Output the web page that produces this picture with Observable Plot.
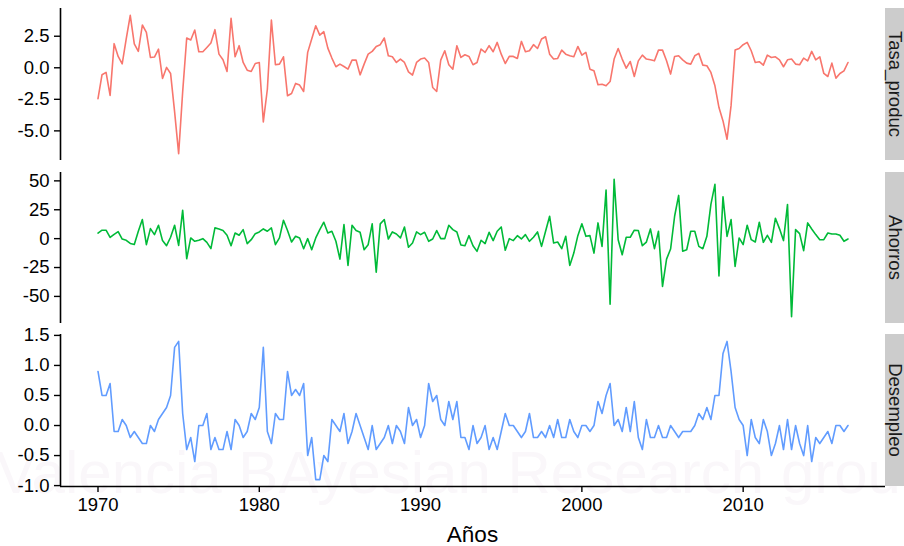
<!DOCTYPE html>
<html><head><meta charset="utf-8">
<script src="https://cdn.jsdelivr.net/npm/d3@7"></script>
<script src="https://cdn.jsdelivr.net/npm/@observablehq/plot@0.6"></script>
<style>
body{margin:0;background:#fff;}
#chart{position:relative;width:904px;height:546px;overflow:hidden;background:#fff;font-family:"Liberation Sans",Arial,Helvetica,sans-serif;}
#chart svg.panel{position:absolute;left:0;overflow:visible;}
#wm{position:absolute;left:-4px;top:443px;font-size:60px;line-height:60px;color:#faf7fa;white-space:nowrap;}
#xlab{position:absolute;left:60px;width:825px;text-align:center;top:524px;height:22px;line-height:22px;font-size:22.5px;color:#000;}
</style></head>
<body><div id="chart"><div id="wm">Valencia BAyesian Research group</div></div>
<script>
// ---- data (quarterly, 1970 Q1 .. 2016 Q3) ----
const startYear = 1970;
const prod = [-2.45,-0.55,-0.36,-2.19,1.91,0.90,0.31,2.29,4.15,1.89,
1.30,3.39,2.80,0.82,0.85,1.48,-0.85,0.03,-0.45,-3.5,
-6.8,-1.9,2.36,2.2,2.99,1.27,1.27,1.61,1.96,3.02,
1.08,0.63,-0.29,3.92,0.87,1.75,0.42,-0.19,-0.29,0.34,
0.42,-4.29,-1.7,3.78,0.24,0.29,0.87,-2.22,-2.04,-1.24,
-1.37,-1.88,1.22,2.28,3.33,2.59,2.86,1.56,0.77,0.08,
0.29,0.10,-0.11,0.61,0.61,-0.56,0.29,1.08,1.30,1.69,
1.83,2.36,0.95,0.87,0.42,0.69,0.42,-0.32,-0.58,0.42,
0.69,0.77,0.42,-1.56,-1.88,0.61,1.35,0.24,-0.11,1.75,
0.82,1.03,0.90,0.24,0.42,1.48,1.22,1.75,1.27,2.01,
1.08,0.34,0.90,0.90,0.74,2.09,1.27,1.35,1.83,1.53,
2.28,2.46,1.08,0.69,0.74,1.40,1.08,0.95,0.87,1.69,
1.00,1.22,-0.11,-0.24,-1.35,-1.30,-1.43,-1.09,0.69,1.53,
0.69,-0.03,0.50,-0.69,0.55,1.00,0.69,0.63,0.55,1.40,
1.40,0.55,-0.50,0.90,0.95,0.63,0.37,0.29,0.95,1.14,
0.21,0.16,-0.37,-1.43,-3.15,-4.21,-5.66,-3.0,1.40,1.53,
1.83,2.01,1.35,0.42,0.48,0.21,1.00,0.82,0.87,0.63,
0.08,0.63,0.69,0.29,0.24,0.77,0.55,1.30,0.63,0.87,
-0.45,-0.69,0.37,-0.82,-0.45,-0.24,0.42];
const sav = [4.8,7.3,7.3,1.0,3.7,6.1,-0.4,-1.4,-4.2,-5.1,
6.4,16.5,-5.2,8.7,3.5,11.6,-1.7,-6.1,1.2,11.6,
-5.8,24.6,-17.4,0.6,-2.3,-1.4,0,-3.2,-8.7,9.3,
8.4,7.0,2.9,-6.1,4.9,2.9,7.8,-4.3,-0.9,4.3,
5.8,8.4,6.4,9.3,-5.2,0.6,15.9,7.0,-2.9,2.0,
0.6,-8.7,0,-9.6,0.6,7.8,14.2,4.9,6.4,-2.3,
-17.7,12.2,-23.2,11.6,7.0,5.5,-9.6,-5.2,12.8,-29.0,
12.8,16.5,-0.3,5.8,4.0,0.6,10.1,-7.5,-3.8,5.8,
3.5,5.5,-2.3,-0.3,7.0,0,0,11.6,7.8,5.8,
-5.5,-6.1,2.6,-6.1,-11.0,-1.4,-4.3,5.5,-1.7,6.4,
10.1,-10.1,0,-1.7,2.6,-0.3,3.5,-2.3,1.2,5.8,
-6.7,6.4,19.4,-3.8,-2.9,-8.7,2.0,-23.2,-12.5,2.6,
12.8,2.0,2.6,-12.5,13.6,-6.7,42.0,-56.8,51.3,-0.9,
-13.9,1.2,1.2,7.3,7.0,-6.1,-3.0,8.4,-8.7,6.4,
-41.4,-17.7,-9.0,19.4,37.4,-10.9,-9.6,6.4,6.4,-6.7,
-8.7,2.0,29.6,47.0,-32.2,36.2,2.0,16.5,-24.1,0.6,
-5.2,11.6,-0.9,-2.9,14.2,-3.2,2.9,-3.2,17.7,8.7,
-1.7,29.6,-67.5,7.8,4.3,-10.4,13.6,8.4,3.5,-0.9,
-0.9,4.9,4.0,4.0,2.9,-2.3,-0.3];
const unemp = [0.9,0.5,0.5,0.7,-0.1,-0.1,0.1,0.0,-0.2,-0.1,
-0.2,-0.3,-0.3,0.0,-0.1,0.1,0.2,0.3,0.5,1.3,
1.4,0.2,-0.4,-0.2,-0.6,0.0,0.0,0.2,-0.4,-0.2,
-0.4,-0.4,-0.1,-0.4,0.1,0.0,-0.2,-0.1,0.2,0.1,
0.3,1.3,-0.1,-0.3,0.2,0.1,0.1,0.9,0.5,0.6,
0.5,0.7,-0.5,-0.2,-0.9,-0.9,-0.5,-0.6,0.1,0.0,
-0.1,0.2,-0.3,-0.1,0.2,0.0,-0.2,-0.4,0.0,-0.4,
-0.3,-0.2,0.0,-0.3,0.0,-0.1,-0.3,0.3,0.0,0.1,
-0.2,0.0,0.7,0.4,0.5,0.1,0.0,0.4,0.1,0.4,
-0.2,-0.2,-0.4,0.0,-0.3,-0.2,0.0,-0.4,-0.2,-0.4,
-0.1,0.2,0.0,0.0,-0.1,-0.2,-0.1,0.2,-0.2,-0.2,
-0.1,-0.2,0.0,-0.2,0.1,-0.2,-0.2,0.1,-0.1,-0.2,
0.0,0.0,-0.1,0.0,0.4,0.2,0.5,0.7,0.0,0.1,
-0.1,0.3,-0.1,0.4,-0.2,-0.4,0.1,-0.2,-0.2,0.0,
-0.2,-0.2,0.0,-0.1,-0.2,-0.1,-0.1,-0.1,0.0,0.2,
0.1,0.3,0.1,0.5,0.5,1.2,1.4,0.9,0.3,0.1,
0.0,-0.5,0.1,-0.2,-0.3,0.1,-0.1,-0.5,-0.3,0.0,
-0.4,0.1,-0.4,0.0,-0.3,-0.5,0.0,-0.6,-0.2,-0.3,
-0.2,-0.1,-0.3,0.0,0.0,-0.1,0.0];
const seriesNames = ["Tasa_produc","Ahorros","Desempleo"];
const prodTicks = [-5,-2.5,0,2.5];
const savTicks = [-50,-25,0,25,50];
const unempTicks = [-1,-0.5,0,0.5,1,1.5];
const yearTicks = [1970,1980,1990,2000,2010];
const xTitle = "Años";

// ---- layout ----
const W = 885, LEFT = 60;
const FONT = '"Liberation Sans", Arial, Helvetica, sans-serif';
const years = prod.map((_, i) => startYear + i / 4);
const pad = e => { const r = e[1] - e[0]; return [e[0] - 0.05 * r, e[1] + 0.05 * r]; };
const xdom = pad(d3.extent(years));
const panels = [
  {name: seriesNames[0], values: prod, color: "#F8766D", ticks: prodTicks, fmt: d => d.toFixed(1), top: 8, bottom: 160},
  {name: seriesNames[1], values: sav, color: "#00BA38", ticks: savTicks, fmt: d => String(d), top: 172, bottom: 323},
  {name: seriesNames[2], values: unemp, color: "#619CFF", ticks: unempTicks, fmt: d => d.toFixed(1), top: 334, bottom: 486, xaxis: true}
];
const chart = document.getElementById("chart");

for (const p of panels) {
  const data = p.values.map((v, i) => ({t: years[i], v}));
  const ydom = pad(d3.extent(p.values));
  const mt = 12, mb = p.xaxis ? 40 : 12;
  const marks = [
    Plot.axisY({ticks: p.ticks, tickFormat: p.fmt, tickSize: 6, tickPadding: 5, label: null, stroke: "#000", strokeWidth: 1.4}),
    Plot.ruleX([xdom[0]], {stroke: "#000", strokeWidth: 1.6}),
    Plot.lineY(data, {x: "t", y: "v", stroke: p.color, strokeWidth: 1.6})
  ];
  if (p.xaxis) {
    marks.push(Plot.axisX({ticks: yearTicks, tickFormat: d => String(d), tickSize: 6, tickPadding: 5, label: null, stroke: "#000", strokeWidth: 1.4}));
    marks.push(Plot.ruleY([ydom[0]], {stroke: "#000", strokeWidth: 1.6}));
  }
  const svg = Plot.plot({
    width: W, height: p.bottom - p.top + mt + mb,
    marginLeft: LEFT, marginRight: 0, marginTop: mt, marginBottom: mb,
    style: {fontFamily: FONT, fontSize: "18.5px", color: "#000", background: "transparent", overflow: "visible"},
    x: p.xaxis ? {domain: xdom} : {domain: xdom, axis: null},
    y: {domain: ydom},
    marks
  });
  svg.classList.add("panel");
  svg.style.top = (p.top - mt) + "px";
  chart.appendChild(svg);
}

// strips
const ov = d3.select(chart).append("svg")
  .attr("width", 904).attr("height", 546)
  .style("position", "absolute").style("left", 0).style("top", 0);
for (const p of panels) {
  ov.append("rect").attr("x", 885).attr("y", p.top).attr("width", 19).attr("height", p.bottom - p.top).attr("fill", "#CCCCCC");
  ov.append("text").attr("transform", `translate(888.5,${(p.top + p.bottom) / 2}) rotate(90)`)
    .attr("text-anchor", "middle").attr("font-family", FONT).attr("font-size", 18.5).attr("fill", "#1a1a1a")
    .text(p.name);
}
const xl = document.createElement("div");
xl.id = "xlab"; xl.textContent = xTitle;
chart.appendChild(xl);
</script></body></html>
